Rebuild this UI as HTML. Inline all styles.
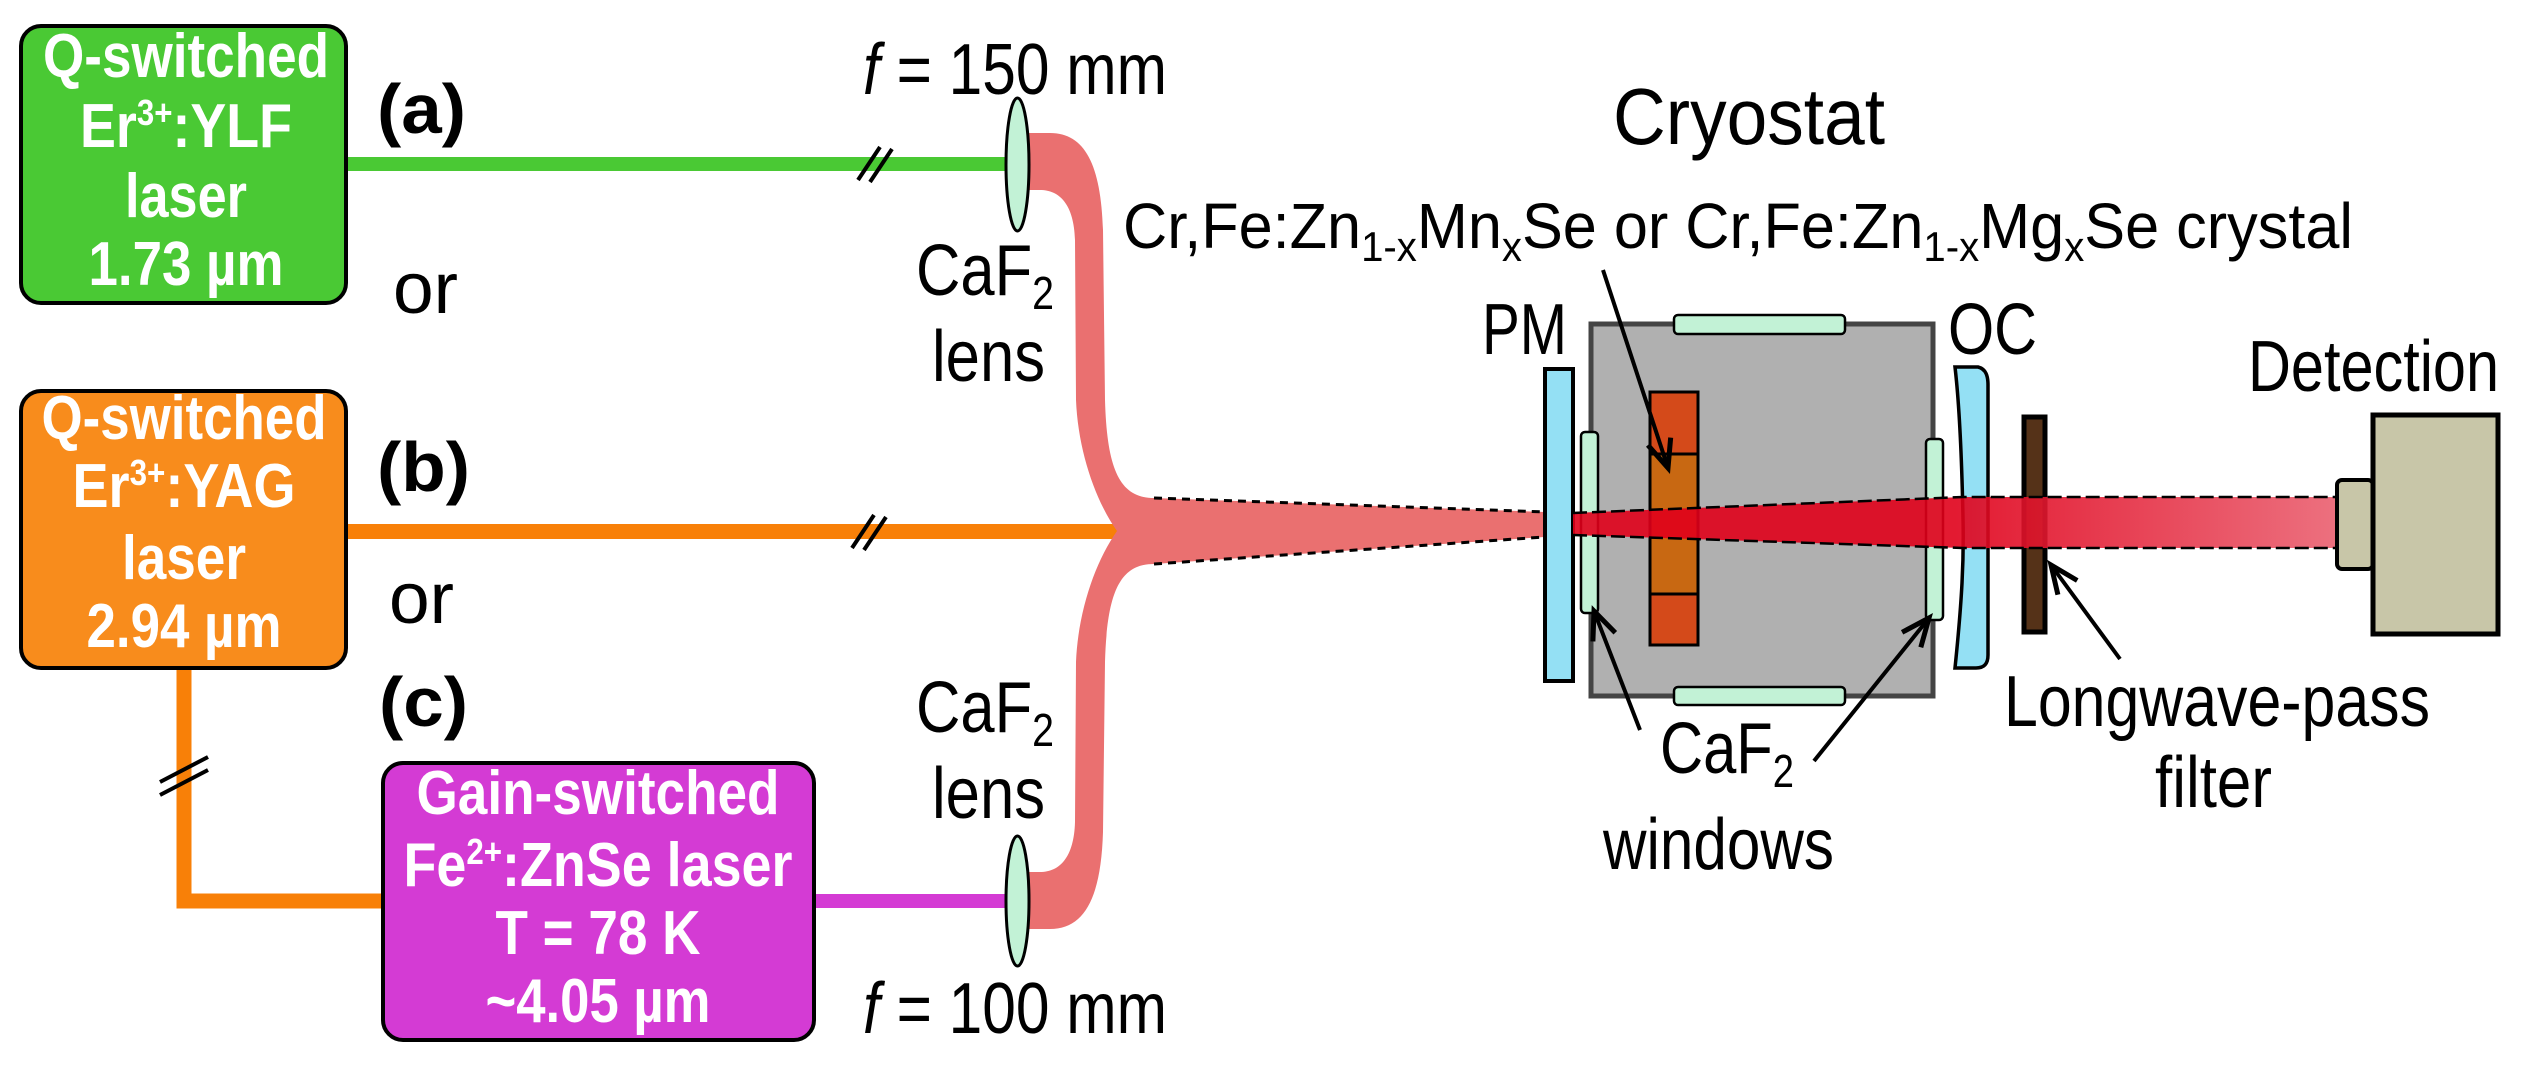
<!DOCTYPE html>
<html><head><meta charset="utf-8"><style>
html,body{margin:0;padding:0;background:#fff;}
svg{display:block;}
text{font-family:"Liberation Sans",Arial,sans-serif;}
.b{font-weight:bold;fill:#fff;}
</style></head><body>
<svg width="2542" height="1070" viewBox="0 0 2542 1070" xmlns="http://www.w3.org/2000/svg">
<defs>
<marker id="ah" markerWidth="40" markerHeight="40" refX="30" refY="15" orient="auto" markerUnits="userSpaceOnUse">
<polyline points="2,3 30,15 2,27" fill="none" stroke="#000" stroke-width="5"/>
</marker>
<linearGradient id="rg" x1="1573" x2="2335" y1="0" y2="0" gradientUnits="userSpaceOnUse">
<stop offset="0" stop-color="#e0001a"/><stop offset="0.5" stop-color="#e0001a"/><stop offset="1" stop-color="#ea6070"/>
</linearGradient>
</defs>

<rect x="347" y="157" width="662" height="14" fill="#4ac934"/>
<rect x="347" y="524" width="772" height="15" fill="#f88008"/>
<path d="M184,669 L184,901 L381,901" fill="none" stroke="#f88008" stroke-width="15"/>
<rect x="815" y="894" width="194" height="14" fill="#d43bd4"/>
<g stroke="#000" stroke-width="4">
<line x1="858" y1="180" x2="880" y2="147"/><line x1="870" y1="182" x2="892" y2="149"/>
<line x1="852" y1="548" x2="874" y2="515"/><line x1="864" y1="550" x2="886" y2="517"/>
<line x1="160" y1="795" x2="208" y2="770"/><line x1="160" y1="782" x2="208" y2="757"/>
</g>
<path d="M1029,133 L1050,133 C1085,133 1101,165 1103,230 L1105,400 C1107,470 1120,498 1154,498 L1154,564 C1120,564 1107,592 1105,662 L1103,832 C1101,897 1085,929 1050,929 L1029,929 L1029,872 L1040,872 C1060,872 1074,857 1075,822 L1076,662 C1078,612 1095,562 1117,531 C1095,500 1078,450 1076,400 L1075,240 C1074,205 1060,190 1040,190 L1029,190 Z" fill="#ea7070"/>
<polygon points="1154,498 1573,513 1573,535 1154,564" fill="#ea7070"/>
<g stroke="#000" stroke-width="3" stroke-dasharray="8,6" fill="none">
<line x1="1154" y1="498" x2="1573" y2="513"/><line x1="1154" y1="564" x2="1573" y2="535"/>
</g>
<ellipse cx="1017.5" cy="164.5" rx="11.5" ry="66.5" fill="#c2f2d6" stroke="#000" stroke-width="3"/>
<ellipse cx="1017.5" cy="901" rx="11.5" ry="65" fill="#c2f2d6" stroke="#000" stroke-width="3"/>

<rect x="21" y="26" width="325" height="277" rx="20" fill="#4ac934" stroke="#000" stroke-width="4"/>
<rect x="21" y="391" width="325" height="277" rx="20" fill="#f88c1c" stroke="#000" stroke-width="4"/>
<rect x="383" y="763" width="431" height="277" rx="20" fill="#d43bd4" stroke="#000" stroke-width="4"/>
<g class="b" font-size="62" text-anchor="middle">
<text x="186" y="77" textLength="286" lengthAdjust="spacingAndGlyphs">Q-switched</text>
<text x="186" y="147" textLength="212" lengthAdjust="spacingAndGlyphs">Er<tspan font-size="36" dy="-22">3+</tspan><tspan dy="22">:YLF</tspan></text>
<text x="186" y="217" textLength="122" lengthAdjust="spacingAndGlyphs">laser</text>
<text x="186" y="285" textLength="195" lengthAdjust="spacingAndGlyphs">1.73 µm</text>
<text x="184" y="439" textLength="285" lengthAdjust="spacingAndGlyphs">Q-switched</text>
<text x="184" y="507" textLength="223" lengthAdjust="spacingAndGlyphs">Er<tspan font-size="36" dy="-22">3+</tspan><tspan dy="22">:YAG</tspan></text>
<text x="184" y="579" textLength="124" lengthAdjust="spacingAndGlyphs">laser</text>
<text x="184" y="647" textLength="195" lengthAdjust="spacingAndGlyphs">2.94 µm</text>
<text x="598" y="814" textLength="363" lengthAdjust="spacingAndGlyphs">Gain-switched</text>
<text x="598" y="886" textLength="389" lengthAdjust="spacingAndGlyphs">Fe<tspan font-size="36" dy="-22">2+</tspan><tspan dy="22">:ZnSe laser</tspan></text>
<text x="598" y="954" textLength="205" lengthAdjust="spacingAndGlyphs">T = 78 K</text>
<text x="598" y="1022" textLength="225" lengthAdjust="spacingAndGlyphs">~4.05 µm</text>
</g>
<g font-size="70" font-weight="bold" fill="#000">
<text x="377" y="133" textLength="89" lengthAdjust="spacingAndGlyphs">(a)</text>
<text x="377" y="491" textLength="93" lengthAdjust="spacingAndGlyphs">(b)</text>
<text x="379" y="726" textLength="89" lengthAdjust="spacingAndGlyphs">(c)</text>
</g>
<g font-size="72" fill="#000">
<text x="393" y="313" textLength="65" lengthAdjust="spacingAndGlyphs">or</text>
<text x="389" y="623" textLength="65" lengthAdjust="spacingAndGlyphs">or</text>
<text x="863" y="94" textLength="304" lengthAdjust="spacingAndGlyphs"><tspan font-style="italic">f</tspan> = 150 mm</text>
<text x="863" y="1033" textLength="304" lengthAdjust="spacingAndGlyphs"><tspan font-style="italic">f</tspan> = 100 mm</text>
<text x="916" y="295" textLength="138" lengthAdjust="spacingAndGlyphs">CaF<tspan font-size="46" dy="14">2</tspan></text>
<text x="932" y="381" textLength="113" lengthAdjust="spacingAndGlyphs">lens</text>
<text x="916" y="732" textLength="138" lengthAdjust="spacingAndGlyphs">CaF<tspan font-size="46" dy="14">2</tspan></text>
<text x="932" y="818" textLength="113" lengthAdjust="spacingAndGlyphs">lens</text>
<text x="1613" y="144" font-size="80" textLength="272" lengthAdjust="spacingAndGlyphs">Cryostat</text>
</g>
<text x="1123" y="248" font-size="64" fill="#000" textLength="1230" lengthAdjust="spacingAndGlyphs">Cr,Fe:Zn<tspan font-size="42" dy="13">1-x</tspan><tspan dy="-13">Mn</tspan><tspan font-size="42" dy="13">x</tspan><tspan dy="-13">Se or Cr,Fe:Zn</tspan><tspan font-size="42" dy="13">1-x</tspan><tspan dy="-13">Mg</tspan><tspan font-size="42" dy="13">x</tspan><tspan dy="-13">Se crystal</tspan></text>

<rect x="1591" y="324" width="342" height="372" fill="#b0b0b0" stroke="#444" stroke-width="5"/>
<rect x="1674" y="315" width="171" height="19" rx="4" fill="#c2f2d6" stroke="#000" stroke-width="2.5"/>
<rect x="1674" y="687" width="171" height="18" rx="4" fill="#c2f2d6" stroke="#000" stroke-width="2.5"/>
<rect x="1581" y="432" width="17" height="181" rx="4" fill="#c2f2d6" stroke="#000" stroke-width="2.5"/>
<rect x="1926" y="439" width="17" height="181" rx="4" fill="#c2f2d6" stroke="#000" stroke-width="2.5"/>
<rect x="1650" y="392" width="48" height="253" fill="#c86812" stroke="#000" stroke-width="3"/>
<rect x="1650" y="392" width="48" height="62" fill="#d44a1a" stroke="#000" stroke-width="3"/>
<rect x="1650" y="594" width="48" height="51" fill="#d44a1a" stroke="#000" stroke-width="3"/>
<rect x="1545" y="369" width="28" height="312" fill="#94e0f4" stroke="#000" stroke-width="4"/>
<path d="M1955,367 L1978,367 C1986,369 1988,376 1988,385 L1988,655 C1988,664 1984,668 1976,668 L1955,668 C1962,600 1964,560 1963,518 C1962,470 1960,410 1955,367 Z" fill="#94e0f4" stroke="#000" stroke-width="3.5"/>
<rect x="2024" y="417" width="21" height="215" fill="#553218" stroke="#000" stroke-width="5"/>
<rect x="2337" y="480" width="36" height="89" rx="5" fill="#c8c6a8" stroke="#000" stroke-width="4"/>
<rect x="2373" y="415" width="125" height="219" fill="#c8c6a8" stroke="#000" stroke-width="5"/>
<polygon points="1573,513 1963,497 2335,497 2335,548 1963,548 1573,535" fill="url(#rg)" opacity="0.9"/>
<g stroke="#000" stroke-width="2.5" stroke-dasharray="14,5" fill="none">
<polyline points="1573,513 1963,497 2335,497"/><polyline points="1573,535 1963,548 2335,548"/>
</g>

<g font-size="72" fill="#000">
<text x="1482" y="354" textLength="85" lengthAdjust="spacingAndGlyphs">PM</text>
<text x="1948" y="354" textLength="89" lengthAdjust="spacingAndGlyphs">OC</text>
<text x="2248" y="391" textLength="251" lengthAdjust="spacingAndGlyphs">Detection</text>
<text x="2004" y="726" textLength="426" lengthAdjust="spacingAndGlyphs">Longwave-pass</text>
<text x="2155" y="807" textLength="117" lengthAdjust="spacingAndGlyphs">filter</text>
<text x="1660" y="773" textLength="134" lengthAdjust="spacingAndGlyphs">CaF<tspan font-size="46" dy="14">2</tspan></text>
<text x="1603" y="869" textLength="231" lengthAdjust="spacingAndGlyphs">windows</text>
</g>
<g stroke="#000" stroke-width="4" fill="none" marker-end="url(#ah)">
<line x1="1603" y1="270" x2="1668" y2="468"/>
<line x1="1640" y1="730" x2="1594" y2="611"/>
<line x1="1814" y1="761" x2="1929" y2="618"/>
<line x1="2120" y1="659" x2="2051" y2="565"/>
</g>
</svg>
</body></html>
